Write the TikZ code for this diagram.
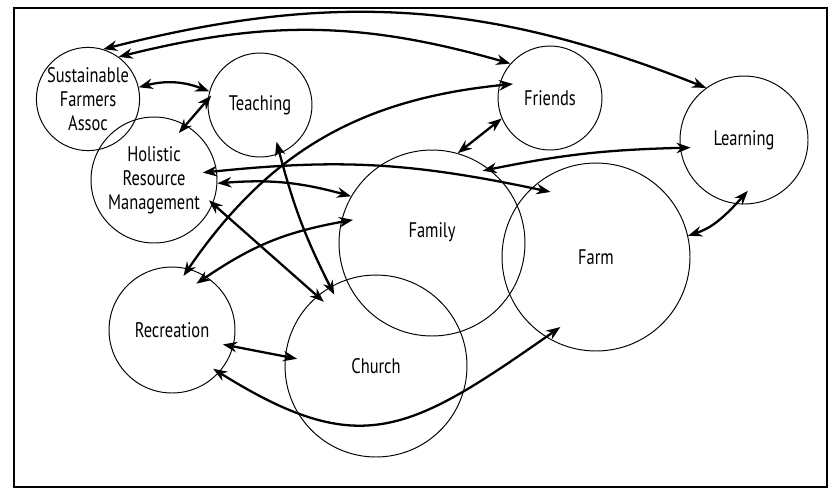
\documentclass[tikz,border=0pt]{standalone}
\usepackage{fontspec}
\setmainfont{PT Sans}[FakeStretch=0.78]
\usetikzlibrary{arrows.meta}

\begin{document}
\begin{tikzpicture}[
  x=0.02cm,y=-0.02cm,
  >={Stealth[length=8pt,width=6pt]},
  font=\fontsize{12}{13.6}\selectfont,
  idea/.style={draw,circle,inner sep=0pt,minimum size=#1,line width=.55pt,align=center},
  link/.style={<->,line width=1.3pt}
]
  \useasboundingbox (0,0) rectangle (830,491);
  \draw[line width=.6pt] (14,487) -- (14,8) -- (827,8) -- (827,487);
  \draw[line width=1.4pt] (13,487) -- (828,487);

  \node[idea=2.04cm] (sfa) at (88,99) {Sustainable\\Farmers\\Assoc};
  \node[idea=2.08cm] (tea) at (260,105) {Teaching};
  \node[idea=2.52cm] (hol) at (154,180) {Holistic\\Resource\\Management};
  \node[idea=2.08cm] (fri) at (550,98) {Friends};
  \node[idea=2.56cm] (lea) at (744,140) {Learning};
  \node[idea=3.72cm,label={[yshift=6pt]center:Family}] (fam) at (432,243) {};
  \node[idea=3.76cm] (farm) at (596,257) {Farm};
  \node[idea=2.52cm] (rec) at (172,330) {Recreation};
  \node[idea=3.64cm] (chu) at (376,366) {Church};

  \draw[link] (sfa.73) to[bend left=18] (lea.126);
  \draw[link] (sfa.54) to[bend left=15] (fri.139);
  \draw[link] (sfa.13) to[bend left=18] (tea.165);
  \draw[link,shorten <=-3pt,shorten >=-6pt] (tea.174) -- (hol.60);
  \draw[link,shorten <=-8pt,shorten >=-5pt] (fri.166) to[bend right=25] (rec.75);
  \draw[link] (fri.203) -- (fam.74);
  \draw[link,shorten <=-4pt,shorten >=-6pt] (fam.52) to[bend left=5] (lea.187);
  \draw[link,shorten <=-8pt,shorten >=-11pt] (hol.8) to[bend left=9] (farm.133);
  \draw[link] (hol.-3) to[bend left=10] (fam.150);
  \draw[link,shorten <=-3pt,shorten >=-5pt] (hol.-22) -- (chu.130);
  \draw[link,shorten <=-7pt,shorten >=-5pt] (tea.-68) to[bend right=6] (chu.120);
  \draw[link,shorten <=-7pt,shorten >=-7pt] (fam.167) to[bend right=12] (rec.57);
  \draw[link,shorten <=-6pt,shorten >=-7pt] (rec.-15) -- (chu.174);
  \draw[link,shorten <=-4pt,shorten >=-10pt] (rec.-42) to[out=-32,in=215,looseness=1.3] (farm.238);
  \draw[link,shorten <=-10pt] (lea.-97) to[bend left=15] (farm.13);
\end{tikzpicture}
\end{document}
